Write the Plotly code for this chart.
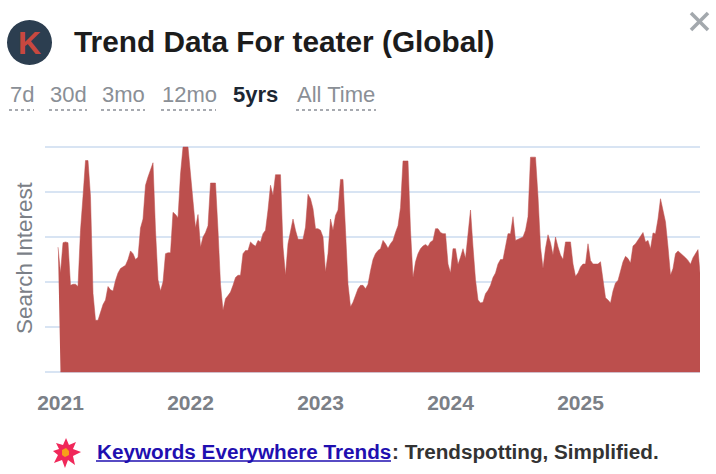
import plotly.graph_objects as go
import pandas as pd

# weekly search interest (0-100)
values_2021 = [55.5, 44, 57.5, 57.8, 57.5, 38.5, 39, 39, 38, 63, 78, 94, 94, 78, 35, 23, 23, 27, 30, 32,
               38, 36.5, 36, 40.7, 44, 46, 46.7, 47.4, 50, 53.8, 52.6, 50, 51, 64, 68, 83, 86.7, 90, 93, 63,
               41, 36, 40, 52.6, 53, 53, 71, 70, 68.6, 88, 100, 100]
values_2022 = [100, 88, 75, 64, 70, 55.5, 60, 62, 65, 84, 84, 84, 63, 39, 27.4, 32.6, 34, 35.5, 38.5, 42,
               43, 43, 52.6, 54, 54, 57.8, 56.7, 55.9, 58.5, 57.8, 61.5, 63, 72, 83, 78.5, 87.7, 87.7, 87.7, 55.6,
               43, 57, 63, 68, 63, 59, 59, 59, 64.4, 79, 77, 72.6]
values_2023 = [63.7, 63.7, 63, 60, 44.4, 52.6, 68, 63, 69.6, 72, 85.6, 85.6, 63, 39, 29, 31, 34, 37, 38.5,
               38.5, 37, 39, 45, 50, 52.6, 54, 54.8, 58.5, 57, 55, 57, 58.5, 62, 65, 73, 93.8, 93.8, 93.8, 63,
               42, 49, 52.6, 54.8, 56, 56.7, 55.8, 57.8, 58.5, 63.7, 63.7, 62]
values_2024 = [61.5, 61.5, 48, 44, 54.8, 54.8, 47.8, 51, 54.8, 50.4, 63, 72, 55.6, 41, 32, 30.7, 31, 34.8, 36.3, 38.5,
               42, 44, 48, 50, 50, 55, 61.5, 61.5, 69, 58.5, 59, 59.7, 60, 63, 69, 95.5, 95.5, 95.5, 78, 55.6,
               46, 55, 61, 57.5, 52, 60, 55.6, 52, 50, 57.8, 57.8, 57.8]
values_2025 = [48, 42.5, 44, 46.7, 48, 48, 57, 49.6, 48, 47.9, 48, 49, 40.7, 33, 32, 30.7, 36, 39.6, 40.7, 45,
               49, 51.4, 50.4, 48.4, 56, 57, 58.5, 60, 62, 57.8, 58.5, 54.8, 61.8, 61.5, 68, 77, 71.8, 66.7, 55.6, 43,
               46, 52.6, 53.8, 52.9, 52, 50.8, 49.6, 47.9, 50.8, 52.6, 54.4, 41.5]
values = values_2021 + values_2022 + values_2023 + values_2024 + values_2025
years = ["2021", "2022", "2023", "2024", "2025"]
ranges = ["7d", "30d", "3mo", "12mo", "5yrs", "All Time"]
y_ticks = [0, 20, 40, 60, 80, 100]

dates = pd.date_range("2020-12-27", periods=len(values), freq="7D")
year_ticks = pd.date_range("2021-01-03", periods=len(years), freq="364D")
x_start = dates[0] - pd.Timedelta(days=7 * 13 / 2.5)
x_end = dates[0] + pd.Timedelta(days=7 * 642 / 2.5)

W, H = 716, 474
# plot box is two pixels larger than the grid, plotly drops gridlines right at the edge
L, R, T, B = 45, 700, 145, 374
GRAY = "#7b8087"


def px(x):
    return (x - L) / (R - L)


def py(y):
    return (B - y) / (B - T)


def label(text, x, y, size, color, anchor="left", **kw):
    return dict(text=text, x=px(x), y=py(y), xref="paper", yref="paper", showarrow=False,
                xanchor=anchor, yanchor="middle", font=dict(size=size, color=color, family="Liberation Sans"),
                borderpad=0, **kw)


fig = go.Figure()
# fill polygon closes at the second point, as in the source chart
fig.add_trace(go.Scatter(
    x=list(dates) + [dates[-1], dates[1]],
    y=values + [0, 0],
    mode="lines",
    fill="toself",
    fillcolor="#bc4f4d",
    line=dict(color="#bc4f4d", width=0.5),
    hoverinfo="skip",
))

annotations = [
    label("<b>Trend Data For teater (Global)</b>", 73, 41, 29.8, "#1c1c1c"),
    label("<b>K</b>", 29, 43, 32, "#c8483f", "center"),
    label("Search Interest", 24, 258, 22.4, GRAY, "center", textangle=-90),
    label("<b>Keywords Everywhere Trends</b>", 96, 451, 20.7, "#1f0fb0"),
    label("<b>: Trendspotting, Simplified.</b>", 391, 451, 20.7, "#333333"),
]
# period links with their dotted underlines
range_x = [9, 49, 101, 161, 232, 296]
range_w = [25, 38, 44, 55, 0, 80]
shapes = [
    dict(type="circle", xref="paper", yref="paper", x0=px(7), x1=px(52), y0=py(65), y1=py(20),
         fillcolor="#2c3e50", line_width=0, layer="below"),
    dict(type="line", xref="paper", yref="paper", x0=px(691), x1=px(708), y0=py(13), y1=py(30),
         line=dict(color="#a3a8ad", width=3.5)),
    dict(type="line", xref="paper", yref="paper", x0=px(708), x1=px(691), y0=py(13), y1=py(30),
         line=dict(color="#a3a8ad", width=3.5)),
]
for name, x0, w in zip(ranges, range_x, range_w):
    if name == "5yrs":
        annotations.append(label("<b>" + name + "</b>", x0, 95, 22, "#1c2733"))
        continue
    annotations.append(label(name, x0, 95, 22, "#8a8f96"))
    shapes.append(dict(type="line", xref="paper", yref="paper", x0=px(x0), x1=px(x0 + w), y0=py(110), y1=py(110),
                       line=dict(color="#8a8f96", width=1.5, dash="dot")))

# burst icon
burst = [(66, 438), (69, 445), (76, 442), (73, 449), (81, 452), (73, 456), (75, 465), (68, 460), (65, 468),
         (62, 460), (54, 463), (58, 455), (53, 451), (59, 449), (56, 443), (63, 445)]
core = [(66, 448), (69, 451), (69, 455), (65, 457), (62, 455), (62, 450)]


def poly(points):
    return "M" + " L".join(f"{px(x):.4f},{py(y):.4f}" for x, y in points) + " Z"


shapes.append(dict(type="path", xref="paper", yref="paper", path=poly(burst), fillcolor="#f0285a", line_width=0))
shapes.append(dict(type="path", xref="paper", yref="paper", path=poly(core), fillcolor="#f7a11a", line_width=0))
shapes.append(dict(type="line", xref="paper", yref="paper", x0=px(96), x1=px(391), y0=py(461), y1=py(461),
                   line=dict(color="#1f0fb0", width=1.5)))

fig.update_layout(
    width=W,
    height=H,
    margin=dict(l=L, r=W - R, t=T, b=H - B),
    paper_bgcolor="white",
    plot_bgcolor="white",
    showlegend=False,
    annotations=annotations,
    shapes=shapes,
    xaxis=dict(
        type="date",
        range=[x_start, x_end],
        tickvals=list(year_ticks),
        ticktext=["<b>" + y + "</b>" for y in years],
        tickfont=dict(size=21, color=GRAY, family="Liberation Sans"),
        showgrid=False,
        zeroline=False,
        ticks="",
        ticklen=0,
        ticklabelstandoff=14,
    ),
    yaxis=dict(
        range=[-0.889, 100.889],
        tickvals=y_ticks,
        showticklabels=False,
        gridcolor="#d8e4f3",
        gridwidth=1.5,
        zeroline=False,
    ),
    font=dict(family="Liberation Sans"),
)

fig.write_html("out.html", post_script="document.body.style.margin='0'", config=dict(displayModeBar=False))
